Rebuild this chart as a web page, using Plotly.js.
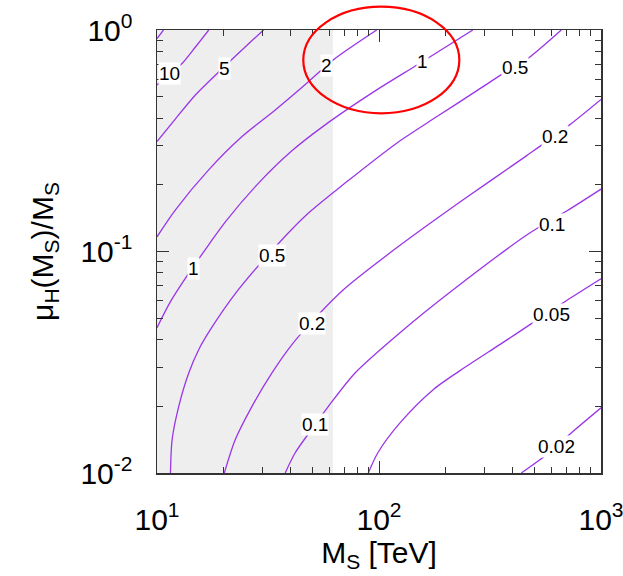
<!DOCTYPE html>
<html>
<head>
<meta charset="utf-8">
<script src="https://cdn.plot.ly/plotly-3.0.1.min.js"></script>
<style>html,body{margin:0;padding:0;background:#fff;}</style>
</head>
<body>
<div id="chart" style="width:623px;height:576px;"></div>
<script>
// ---- contour lines (M_S in TeV, mu_H/M_S) ----
const c20X  = [10, 10.7];
const c20Y  = [0.915, 1.0];
const c10X  = [10, 11.4, 13.0, 14.9, 17.1];
const c10Y  = [0.565, 0.633, 0.708, 0.838, 1.0];
const c5X   = [10, 12.11, 14.89, 18.96, 25.51, 30.2];
const c5Y   = [0.3134, 0.3969, 0.5091, 0.6465, 0.8557, 1.0];
const c2X   = [10, 12.11, 17.09, 24.15, 34.09, 48.11, 62.13, 97.66];
const c2Y   = [0.1165, 0.1543, 0.2336, 0.3302, 0.4357, 0.5844, 0.7323, 1.0];
const c1X   = [10, 11.5, 13.67, 17.09, 20.32, 28.68, 40.52, 57.19, 97.65, 149.7, 264.6];
const c1Y   = [0.0453, 0.05935, 0.07774, 0.1072, 0.1362, 0.2036, 0.2847, 0.3729, 0.5364, 0.6988, 1.0];
const c05X  = [11.5, 11.7, 12.53, 13.9, 15.41, 17.39, 22.93, 35.17, 48.11, 70.35, 120.1, 183.2, 279.4, 356.1, 461.2, 662.4];
const c05Y  = [0.01, 0.01416, 0.02, 0.0283, 0.03604, 0.04436, 0.06606, 0.1084, 0.1491, 0.2036, 0.3083, 0.4076, 0.5364, 0.6287, 0.7348, 1.0];
const c02X  = [20.11, 22.53, 26.79, 32.95, 40.52, 49.84, 69.14, 120.1, 239.3, 461.2, 721.9, 1000];
const c02Y  = [0.01, 0.01416, 0.02, 0.0283, 0.03798, 0.04823, 0.06722, 0.1039, 0.1712, 0.2703, 0.3729, 0.4859];
const c01X  = [37.8, 41.94, 51.58, 59.17, 78.02, 124.3, 215.8, 477.3, 697.7, 1000];
const c01Y  = [0.01, 0.01234, 0.01655, 0.02, 0.0283, 0.04301, 0.06722, 0.1211, 0.1519, 0.1912];
const c005X = [89.5, 98.97, 124.3, 175.4, 247.9, 349.9, 493.8, 697.7, 1000];
const c005Y = [0.01, 0.01238, 0.01684, 0.02379, 0.03031, 0.03798, 0.04773, 0.05996, 0.07534];
const c002X = [437.8, 578.0, 747.0, 1000];
const c002Y = [0.01, 0.01224, 0.01538, 0.01968];

// ---- contour labels ----
const labelText = ["10", "5", "2", "1", "1", "0.5", "0.5", "0.2", "0.2", "0.1", "0.1", "0.05", "0.02"];
const labelX    = [11.38, 20.17, 58.2, 14.63, 157.7, 32.95, 408.6, 49.84, 623.3, 51.58, 603.7, 597.4, 629.2];
const labelY    = [0.633, 0.672, 0.688, 0.0842, 0.7173, 0.096, 0.674, 0.0475, 0.332, 0.01655, 0.133, 0.05221, 0.01321];

// ---- shaded (excluded) band in M_S ----
const shadeX = [10, 62];
const shadeY = [0.01, 1];

// ---- axis ticks ----
const xTickVals = [10, 100, 1000];
const xTickText = ["10<sup>1</sup>", "10<sup>2</sup>", "10<sup>3</sup>"];
const yTickVals = [0.01, 0.1, 1];
const yTickText = ["10<sup>-2</sup>", "10<sup>-1</sup>", "10<sup>0</sup>"];

const lineColor = "#9a35e8";
const FONT = "Liberation Sans, Arial, Helvetica, sans-serif";

const traces = [];
traces.push({
  x: [shadeX[0], shadeX[1], shadeX[1], shadeX[0], shadeX[0]],
  y: [shadeY[0], shadeY[0], shadeY[1], shadeY[1], shadeY[0]],
  mode: "lines", fill: "toself", fillcolor: "#eeeeee",
  line: {width: 0, color: "rgba(0,0,0,0)"}, hoverinfo: "skip", showlegend: false
});
const lines = [[c20X,c20Y],[c10X,c10Y],[c5X,c5Y],[c2X,c2Y],[c1X,c1Y],[c05X,c05Y],[c02X,c02Y],[c01X,c01Y],[c005X,c005Y],[c002X,c002Y]];
lines.forEach(function(l){
  traces.push({x: l[0], y: l[1], mode: "lines",
    line: {color: lineColor, width: 1.3, shape: "spline", smoothing: 0.8},
    hoverinfo: "skip", showlegend: false});
});

const annotations = labelText.map(function(t, i){
  return {x: Math.log10(labelX[i]), y: Math.log10(labelY[i]), xref: "x", yref: "y",
    text: t, showarrow: false, bgcolor: "#ffffff", borderpad: 0,
    font: {family: FONT, size: 19, color: "#000"}};
});

const axisCommon = {
  type: "log", showgrid: false, zeroline: false,
  showline: true, linecolor: "#333", linewidth: 1.5, mirror: "allticks",
  ticks: "inside", ticklen: 12, tickwidth: 1, tickcolor: "#333",
  minor: {ticks: "inside", ticklen: 6, tickwidth: 1, tickcolor: "#333", dtick: "D1", showgrid: false},
  tickfont: {family: FONT, size: 30, color: "#000"},
  ticklabeloverflow: "allow"
};

const layout = {
  width: 623, height: 576,
  margin: {l: 157, r: 22, t: 30, b: 103},
  paper_bgcolor: "#fff", plot_bgcolor: "#fff",
  showlegend: false,
  xaxis: Object.assign({}, axisCommon, {
    range: [1, 3], tickvals: xTickVals, ticktext: xTickText,
    ticklabelstandoff: 19,
    title: {text: "M<sub>S</sub> [TeV]", font: {family: FONT, size: 30, color: "#000"}, standoff: 6}
  }),
  yaxis: Object.assign({}, axisCommon, {
    range: [-2, 0], tickvals: yTickVals, ticktext: yTickText,
    ticklabelstandoff: 17,
    title: {text: "μ<sub>H</sub>(M<sub>S</sub>)/M<sub>S</sub>", font: {family: FONT, size: 30, color: "#000"}, standoff: 18}
  }),
  annotations: annotations,
  shapes: [{
    type: "circle", xref: "paper", yref: "paper",
    x0: 0.3295, x1: 0.6809, y0: 0.812, y1: 1.0526,
    line: {color: "#ff0000", width: 2.2}, layer: "above"
  }]
};

Plotly.newPlot("chart", traces, layout, {displayModeBar: false, staticPlot: true});
</script>
</body>
</html>
